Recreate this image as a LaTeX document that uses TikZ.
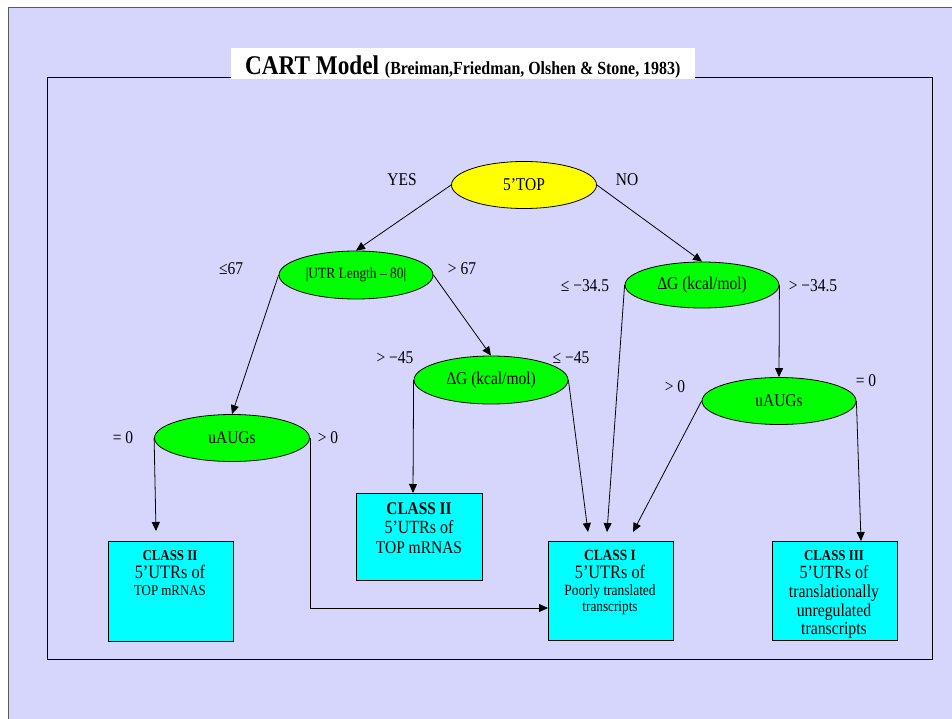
\documentclass[tikz,border=0pt]{standalone}
\usepackage{fontspec}
\setmainfont{Liberation Serif}[FakeStretch=0.86]
\usetikzlibrary{shapes.geometric,arrows.meta}
\definecolor{lav}{RGB}{214,214,252}
\definecolor{framegray}{RGB}{90,90,100}
\definecolor{boxcyan}{RGB}{0,255,255}
\definecolor{nodegreen}{RGB}{0,255,0}
\definecolor{nodeyellow}{RGB}{255,255,0}
\newcommand{\fs}[1]{\fontsize{#1}{#1}\selectfont}
\begin{document}
\begin{tikzpicture}[x=1pt,y=-1pt,
  ell/.style={draw=black, ellipse, line width=0.8pt, inner sep=0pt},
  cbox/.style={draw=black, fill=boxcyan, line width=0.8pt, inner sep=0pt},
  lbl/.style={anchor=base, inner sep=0pt, font=\fs{18}},
  bline/.style={anchor=base, inner sep=0pt},
  conn/.style={draw=black, line width=0.8pt, -{Triangle[length=9pt,width=8pt]}}
]
\useasboundingbox (0,0) rectangle (952,719);
\fill[white] (0,0) rectangle (952,719);
\fill[lav] (8,8) rectangle (952,719);
\draw[framegray, line width=1pt] (8,719) -- (8,8) -- (952,8);
\draw[black, line width=0.8pt] (47,77) rectangle (932,659);
\fill[white] (231,48) rectangle (695,79);
\node[anchor=base west, inner sep=0pt] (title) at (245,75) {\bfseries\fs{27}CART Model \fs{18.5}(Breiman,Friedman, Olshen \& Stone, 1983)};

% ellipses
\node[ell, fill=nodeyellow, minimum width=145pt, minimum height=47pt] (top) at (524,185) {\fs{18}5’TOP};
\node[ell, fill=nodegreen, minimum width=154pt, minimum height=48pt] (utr) at (356,275) {\fs{15.6}|UTR Length – 80|};
\node[ell, fill=nodegreen, minimum width=154pt, minimum height=46pt] (dgR) at (702,285) {\fs{18}ΔG (kcal/mol)};
\node[ell, fill=nodegreen, minimum width=154pt, minimum height=48pt] (dgM) at (491,380) {\fs{18}ΔG (kcal/mol)};
\node[ell, fill=nodegreen, minimum width=155pt, minimum height=47pt] (uL) at (232,438) {\fs{18}uAUGs};
\node[ell, fill=nodegreen, minimum width=154pt, minimum height=47pt] (uR) at (779,401) {\fs{18}uAUGs};

% boxes
\node[cbox, minimum width=125pt, minimum height=100pt] (c2a) at (170.5,591) {};
\node[cbox, minimum width=126pt, minimum height=87pt] (c2b) at (419,536.5) {};
\node[cbox, minimum width=125pt, minimum height=99pt] (c1) at (610.5,590.5) {};
\node[cbox, minimum width=125pt, minimum height=99pt] (c3) at (834.5,590.5) {};

\node[bline] (c2aA) at (170,560) {\bfseries\fs{15}CLASS II};
\node[bline] (c2aB) at (170,578) {\fs{19}5’UTRs of};
\node[bline] (c2aC) at (170,595) {\fs{15}TOP mRNAS};

\node[bline] (c2bA) at (419,514) {\bfseries\fs{17.8}CLASS II};
\node[bline] (c2bB) at (419,533) {\fs{18.6}5’UTRs of};
\node[bline] (c2bC) at (419,553) {\fs{18}TOP mRNAS};

\node[bline] (c1A) at (610,560) {\bfseries\fs{15.6}CLASS I};
\node[bline] (c1B) at (610,578) {\fs{19}5’UTRs of};
\node[bline] (c1C) at (610,595) {\fs{15.6}Poorly translated};
\node[bline] (c1D) at (610,611) {\fs{15.4}transcripts};

\node[bline] (c3A) at (834,560) {\bfseries\fs{15}CLASS III};
\node[bline] (c3B) at (834,578) {\fs{18.6}5’UTRs of};
\node[bline] (c3C) at (834,597) {\fs{18.3}translationally};
\node[bline] (c3D) at (834,616) {\fs{18.3}unregulated};
\node[bline] (c3E) at (834,634) {\fs{18.3}transcripts};

% connector ends
\coordinate (e1) at (607,532);
\coordinate (e2) at (588,532);
\coordinate (e3) at (633,532);
\coordinate (e4) at (413,493);
\coordinate (e5) at (861,541);
\coordinate (e6) at (156,531);
\coordinate (e7) at (548,608);

% connectors
\draw[conn] (top.west) -- (utr.north);
\draw[conn] (top.east) -- (dgR.north);
\draw[conn] (utr.west) -- (uL.north);
\draw[conn] (utr.east) -- (dgM.north);
\draw[conn] (dgR.west) -- (e1);
\draw[conn] (dgR.east) -- (uR.north);
\draw[conn] (dgM.west) -- (e4);
\draw[conn] (dgM.east) -- (e2);
\draw[conn] (uR.west) -- (e3);
\draw[conn] (uR.east) -- (e5);
\draw[conn] (uL.west) -- (e6);
\draw[conn] (uL.east) |- (e7);

% labels
\node[lbl] (lyes) at (402,186) {YES};
\node[lbl] (lno) at (627,186) {NO};
\node[lbl] (l1) at (231,274) {≤67};
\node[lbl] (l2) at (462,274) {> 67};
\node[lbl] (l3) at (585,291) {≤ −34.5};
\node[lbl] (l4) at (813,291) {> −34.5};
\node[lbl] (l5) at (395,363) {> −45};
\node[lbl] (l6) at (571,363) {≤ −45};
\node[lbl] (l7) at (123,443) {= 0};
\node[lbl] (l8) at (328,443) {> 0};
\node[lbl] (l9) at (675,392) {> 0};
\node[lbl] (l10) at (866,386) {= 0};
\end{tikzpicture}
\end{document}
